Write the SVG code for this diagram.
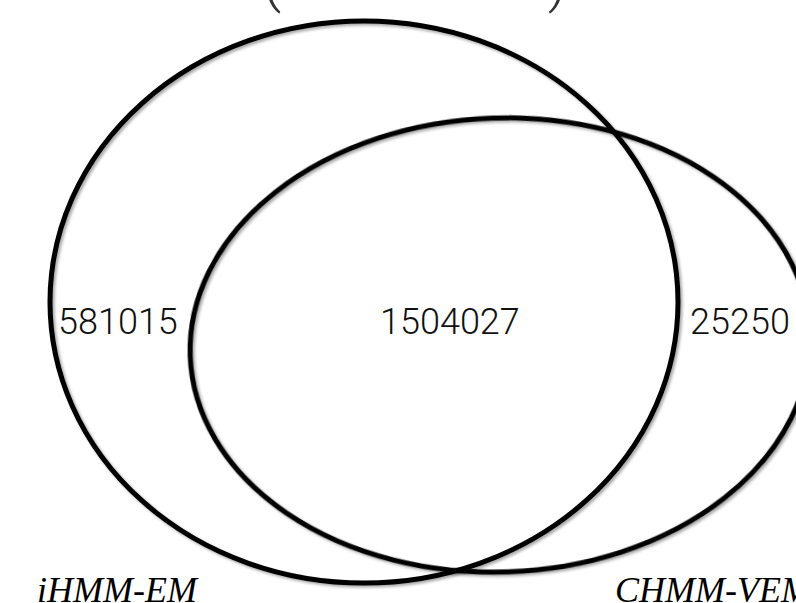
<svg xmlns="http://www.w3.org/2000/svg" width="796" height="603" viewBox="0 0 796 603">
  <defs>
    <filter id="soft-shadow" x="-10%" y="-10%" width="120%" height="120%">
      <feGaussianBlur in="SourceAlpha" stdDeviation="1.5"/>
      <feOffset dx="1.5" dy="2" result="blur"/>
      <feComponentTransfer><feFuncA type="linear" slope="0.35"/></feComponentTransfer>
      <feMerge><feMergeNode/><feMergeNode in="SourceGraphic"/></feMerge>
    </filter>
  </defs>
  <style>
    .set { fill: none; stroke: #000; stroke-width: 5; filter: url(#soft-shadow); }
    .count { font-family: Roboto, "Liberation Sans", sans-serif; font-weight: 300; font-size: 36px; fill: #111; }
    .name { font-family: "Liberation Serif", serif; font-style: italic; font-size: 36px; fill: #000; }
    .title { font-family: Roboto, "Liberation Sans", sans-serif; font-weight: 300; font-size: 60px; fill: #333; }
  </style>
  <rect width="796" height="603" fill="#fff"/>

  <!-- title brackets, running off the top edge -->
  <g id="title">
    <text class="title" x="262" y="0">(</text>
    <text class="title" x="548" y="0">)</text>
  </g>

  <!-- set outlines -->
  <g id="sets">
    <g id="set-ihmm-em">
      <ellipse class="set" cx="364" cy="302" rx="314" ry="281"/>
    </g>
    <g id="set-chmm-vem">
      <ellipse class="set" cx="500" cy="345" rx="310" ry="227" transform="rotate(-2 500 345)"/>
    </g>
  </g>

  <!-- region counts -->
  <g id="counts">
    <text class="count" x="58" y="334">581015</text>
    <text class="count" x="380" y="334">1504027</text>
    <text class="count" x="690" y="334">25250</text>
  </g>

  <!-- set names -->
  <g id="labels">
    <text class="name" x="37" y="602">iHMM-EM</text>
    <text class="name" x="615" y="602">CHMM-VEM</text>
  </g>
</svg>
